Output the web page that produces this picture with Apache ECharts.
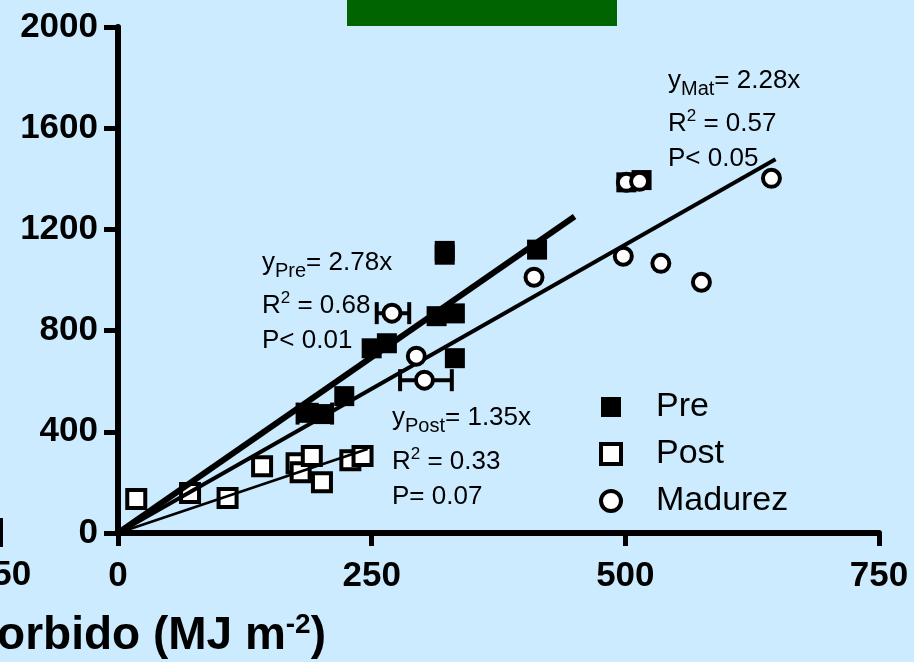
<!DOCTYPE html>
<html>
<head>
<meta charset="utf-8">
<script src="https://cdn.jsdelivr.net/npm/echarts@6/dist/echarts.min.js"></script>
<style>
  html, body { margin: 0; padding: 0; background: #CCEBFE; }
  #chart { width: 914px; height: 662px; }
</style>
</head>
<body>
<div id="chart"></div>
<script>
// Absorbed radiation (MJ m-2) vs biomass, three crop stages
const preX  = [322, 322, 413, 314, 332, 250, 265, 332, 223, 188, 200, 501, 516];
const preY  = [1115, 1100, 1120, 857, 868, 730, 750, 691, 541, 475, 470, 1386, 1395];

const postX = [18, 71, 108, 142, 176, 180, 191, 201, 229, 241];
const postY = [134, 158, 138, 264, 276, 240, 304, 201, 288, 304];

const madX  = [270, 294, 302, 410, 498, 501, 514, 535, 575, 644];
const madY  = [869, 699, 604, 1011, 1094, 1386, 1390, 1066, 991, 1402];

// horizontal error bars: [x, y, xLow, xHigh]
const preErr = [[194, 472, 177, 211]];
const madErr = [[270, 869, 255, 287], [302, 604, 278, 329]];

// fitted slopes (y = b·x) and the x where each fitted line stops
const slopes  = { pre: 2.78, post: 1.35, mad: 2.28 };
const lineEnd = { pre: 450, post: 246, mad: 648 };

const xTicks = [0, 250, 500, 750];
const yTicks = [0, 400, 800, 1200, 1600, 2000];
// last tick label of the neighbouring panel, cut by the left edge
const neighbourTick = '750';

const FONT = '"Liberation Sans", Arial, Helvetica, sans-serif';

const pts = (xs, ys) => xs.map((x, i) => [x, ys[i]]);
const fitLine = (k) => [[0, 0], [lineEnd[k], slopes[k] * lineEnd[k]]];

function errRender(params, api) {
  const lo = api.coord([api.value(2), api.value(1)]);
  const hi = api.coord([api.value(3), api.value(1)]);
  const cap = 11;
  const st = { stroke: '#000', lineWidth: 4 };
  return {
    type: 'group',
    children: [
      { type: 'line', shape: { x1: lo[0], y1: lo[1], x2: hi[0], y2: hi[1] }, style: st },
      { type: 'line', shape: { x1: lo[0], y1: lo[1] - cap, x2: lo[0], y2: lo[1] + cap }, style: st },
      { type: 'line', shape: { x1: hi[0], y1: hi[1] - cap, x2: hi[0], y2: hi[1] + cap }, style: st }
    ]
  };
}

const labelStyle = { fontSize: 35, fontWeight: 'bold', color: '#000', fontFamily: FONT };

const rich = {
  t: { fontSize: 26, color: '#111', fontFamily: FONT },
  s: { fontSize: 20, color: '#111', fontFamily: FONT, padding: [16, 0, 0, 0] },
  p: { fontSize: 17, color: '#111', fontFamily: FONT, padding: [0, 0, 16, 0] }
};
const note = (x, y, text) => ({
  type: 'text', x: x, y: y, z: 20,
  style: { text: text, rich: rich, verticalAlign: 'middle', align: 'left' }
});

const option = {
  backgroundColor: '#CCEBFE',
  animation: false,
  grid: { left: 118, top: 27, width: 761, height: 506 },
  xAxis: {
    type: 'value',
    min: xTicks[0], max: xTicks[xTicks.length - 1], interval: 250,
    axisLine: { onZero: false, lineStyle: { color: '#000', width: 6 } },
    axisTick: { length: 13, lineStyle: { color: '#000', width: 5 } },
    splitLine: { show: false },
    axisLabel: Object.assign({ margin: 26, formatter: (v) => String(v) }, labelStyle)
  },
  yAxis: {
    type: 'value',
    min: yTicks[0], max: yTicks[yTicks.length - 1], interval: 400,
    axisLine: { onZero: false, lineStyle: { color: '#000', width: 6 } },
    axisTick: { length: 14, lineStyle: { color: '#000', width: 5 } },
    splitLine: { show: false },
    axisLabel: Object.assign({ margin: 20, formatter: (v) => String(v) }, labelStyle)
  },
  legend: {
    orient: 'vertical',
    left: 594, top: 385,
    itemWidth: 20, itemHeight: 20, itemGap: 13,
    textStyle: { fontSize: 34, color: '#000', fontFamily: FONT, padding: [0, 0, 0, 30] },
    data: [
      { name: 'Pre', itemStyle: { color: '#000', opacity: 1 } },
      { name: 'Post', itemStyle: { color: '#fff', borderColor: '#000', borderWidth: 4, opacity: 1 } },
      { name: 'Madurez', itemStyle: { color: '#fff', borderColor: '#000', borderWidth: 4, opacity: 1 } }
    ]
  },
  series: [
    {
      name: 'Pre', type: 'scatter', data: pts(preX, preY),
      symbol: 'rect', symbolSize: 20, z: 2,
      itemStyle: { color: '#000', opacity: 1 }
    },
    {
      name: 'Post', type: 'scatter', data: pts(postX, postY),
      symbol: 'rect', symbolSize: 18, z: 2,
      itemStyle: { color: '#fff', borderColor: '#000', borderWidth: 4, opacity: 1 }
    },
    {
      name: 'Madurez', type: 'scatter', data: pts(madX, madY),
      symbol: 'circle', symbolSize: 17, z: 4,
      itemStyle: { color: '#fff', borderColor: '#000', borderWidth: 4, opacity: 1 }
    },
    { name: 'err Pre', type: 'custom', renderItem: errRender, data: preErr, encode: { x: [0, 2, 3], y: 1 }, z: 1 },
    { name: 'err Madurez', type: 'custom', renderItem: errRender, data: madErr, encode: { x: [0, 2, 3], y: 1 }, z: 3 },
    {
      name: 'fit Pre', type: 'line', data: fitLine('pre'), showSymbol: false, z: 3,
      lineStyle: { color: '#000', width: 6 }
    },
    {
      name: 'fit Madurez', type: 'line', data: fitLine('mad'), showSymbol: false, z: 3,
      lineStyle: { color: '#000', width: 4 }
    },
    {
      name: 'fit Post', type: 'line', data: fitLine('post'), showSymbol: false, z: 3,
      lineStyle: { color: '#000', width: 2.5 }
    }
  ],
  graphic: [
    { type: 'rect', shape: { x: 347, y: 0, width: 270, height: 26 }, style: { fill: '#006400' }, z: 1 },
    // neighbouring panel: end tick and its label
    { type: 'rect', shape: { x: -3, y: 518, width: 6, height: 29 }, style: { fill: '#000' }, z: 1 },
    {
      type: 'text', x: 2, y: 575, z: 20,
      style: Object.assign({ text: neighbourTick, align: 'center', verticalAlign: 'middle' },
        { fontSize: 35, fontWeight: 'bold', fill: '#000', fontFamily: FONT })
    },
    note(262, 263, '{t|y}{s|Pre}{t|= 2.78x}'),
    note(262, 306, '{t|R}{p|2}{t| = 0.68}'),
    note(262, 341, '{t|P< 0.01}'),
    note(668, 81, '{t|y}{s|Mat}{t|= 2.28x}'),
    note(668, 124, '{t|R}{p|2}{t| = 0.57}'),
    note(668, 159, '{t|P< 0.05}'),
    note(392, 418, '{t|y}{s|Post}{t|= 1.35x}'),
    note(392, 462, '{t|R}{p|2}{t| = 0.33}'),
    note(392, 497, '{t|P= 0.07}'),
    {
      type: 'text', x: 326, y: 636, z: 20,
      style: {
        text: '{b|PAR absorbido (MJ m}{u|-2}{b|)}',
        align: 'right', verticalAlign: 'middle',
        rich: {
          b: { fontSize: 46, fontWeight: 'bold', color: '#000', fontFamily: FONT },
          u: { fontSize: 28, fontWeight: 'bold', color: '#000', fontFamily: FONT, padding: [0, 0, 22, 0] }
        }
      }
    }
  ]
};

const chart = echarts.init(document.getElementById('chart'), null, { renderer: 'canvas' });
chart.setOption(option);
</script>
</body>
</html>
